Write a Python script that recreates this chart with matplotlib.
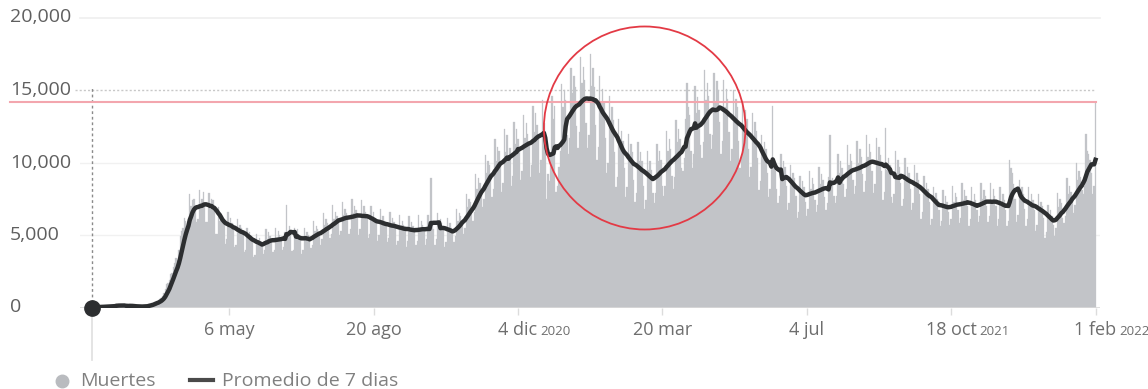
import numpy as np
import pandas as pd
import matplotlib
matplotlib.use("Agg")
import matplotlib.pyplot as plt
import matplotlib.dates as mdates
import matplotlib.transforms as mtransforms
from matplotlib.patches import Ellipse
from matplotlib.lines import Line2D

plt.rcParams['font.family'] = ['Open Sans', 'DejaVu Sans']

# muertes diarias en el mundo (miles), desde el 26 de enero de 2020
inicio = "2020-01-26"

muertes_2020 = [
    0.02, 0.02, 0.03, 0.03, 0.04, 0.04, 0.05,
    0.05, 0.06, 0.07, 0.07, 0.07, 0.08, 0.09,
    0.10, 0.10, 0.10, 0.10, 0.25, 0.14, 0.14,
    0.10, 0.10, 0.10, 0.14, 0.12, 0.10, 0.10,
    0.15, 0.08, 0.08, 0.06, 0.05, 0.06, 0.07,
    0.07, 0.07, 0.08, 0.09, 0.10, 0.10, 0.10,
    0.22, 0.20, 0.30, 0.27, 0.35, 0.40, 0.40,
    0.45, 0.60, 0.65, 0.80, 1.00, 1.30, 1.60,
    1.7, 1.9, 2.3, 2.4, 2.8, 3.1, 3.4,
    3.3, 4.0, 4.9, 5.3, 5.5, 6.2, 6.0,
    5.5, 6.0, 7.8, 7.0, 7.4, 7.5, 6.8,
    5.9, 6.1, 8.1, 7.2, 7.5, 8.0, 7.0,
    5.9, 5.9, 7.9, 6.8, 7.5, 7.4, 6.7,
    5.1, 5.1, 6.9, 6.0, 6.4, 6.2, 5.9,
    4.4, 4.7, 6.6, 5.6, 6.2, 5.8, 5.4,
    4.2, 4.3, 6.1, 5.3, 5.7, 5.5, 5.2,
    3.8, 4.0, 5.5, 4.7, 5.2, 4.9, 4.7,
    3.5, 3.6, 5.1, 4.5, 4.8, 4.6, 4.3,
    3.7, 4.0, 5.4, 4.7, 5.2, 4.9, 4.5,
    3.8, 4.0, 5.5, 4.8, 5.3, 5.0, 4.6,
    4.0, 4.2, 5.2, 7.1, 5.2, 5.6, 5.2,
    3.9, 4.0, 5.5, 4.8, 5.4, 5.1, 4.9,
    3.7, 4.0, 5.5, 4.9, 5.2, 5.0, 4.6,
    4.1, 4.3, 6.0, 5.3, 5.6, 5.4, 5.0,
    4.3, 4.7, 6.5, 5.7, 6.1, 5.8, 5.4,
    4.8, 5.1, 7.1, 6.1, 6.6, 6.3, 6.0,
    5.0, 5.3, 7.3, 6.4, 6.8, 6.5, 6.1,
    5.1, 5.4, 7.5, 6.5, 7.0, 6.7, 6.3,
    5.0, 5.4, 7.4, 6.4, 7.0, 6.6, 6.3,
    4.8, 5.1, 7.0, 6.1, 6.6, 6.2, 5.9,
    4.6, 5.0, 6.8, 5.9, 6.3, 6.0, 5.7,
    4.5, 4.8, 6.6, 5.7, 6.2, 5.9, 5.5,
    4.3, 4.6, 6.4, 5.6, 6.0, 5.7, 5.4,
    4.2, 4.6, 6.3, 5.4, 5.9, 5.6, 5.3,
    4.3, 4.6, 6.4, 5.5, 6.0, 5.7, 5.3,
    4.3, 4.7, 6.4, 5.5, 8.9, 5.7, 5.4,
    4.3, 4.7, 6.5, 5.6, 6.1, 5.8, 5.4,
    4.2, 4.5, 6.2, 5.4, 5.8, 5.5, 5.1,
    4.5, 4.9, 6.8, 6.0, 6.5, 6.3, 6.0,
    5.1, 5.5, 7.8, 6.9, 7.5, 7.3, 6.9,
    6.0, 6.6, 9.2, 8.2, 8.9, 8.6, 8.1,
    6.9, 7.5, 10.5, 9.3, 10.1, 9.8, 9.2,
    7.6, 8.2, 11.6, 10.1, 11.1, 10.8, 10.1,
    8.0, 8.6, 12.3, 10.7, 11.9, 10.2, 11.0,
    8.4, 9.1, 12.8, 11.3, 12.3, 11.6, 10.9,
    8.8, 9.4, 13.3, 11.7, 12.7, 12.0, 11.3,
    9.0, 9.8, 13.9, 12.1, 13.4, 12.6, 11.8,
    9.3, 10.2, 14.3, 12.7, 11.0, 7.5, 9.2,
    8.7, 10.4, 14.6, 13.0, 13.9,
]

muertes_2021 = [
    8.0, 8.4,
    9.7, 10.8, 15.4, 13.8, 15.0, 14.3, 11.9,
    10.6, 11.7, 16.5, 14.8, 16.0, 15.2, 12.5,
    11.0, 12.1, 17.3, 15.5, 16.6, 15.7, 12.7,
    11.0, 11.9, 17.5, 15.3, 16.5, 15.2, 12.6,
    10.2, 11.1, 16.0, 14.2, 15.1, 14.2, 11.7,
    9.3, 10.0, 14.6, 12.8, 13.8, 12.9, 10.7,
    8.3, 9.0, 13.0, 11.4, 12.2, 11.5, 9.6,
    7.6, 8.3, 12.0, 10.6, 11.3, 10.7, 8.8,
    7.3, 7.9, 11.4, 10.1, 10.7, 10.1, 8.4,
    6.8, 7.4, 10.8, 9.5, 10.1, 9.5, 7.9,
    7.2, 7.9, 11.3, 10.1, 10.8, 10.2, 8.4,
    7.7, 8.4, 12.2, 10.8, 11.6, 10.9, 9.1,
    8.2, 9.0, 12.9, 11.4, 12.3, 11.6, 9.6,
    9.4, 10.3, 13.0, 15.5, 13.8, 13.3, 10.8,
    9.6, 10.6, 15.3, 13.4, 14.5, 13.6, 11.2,
    10.3, 11.4, 16.4, 14.3, 15.5, 14.6, 12.0,
    10.9, 11.9, 16.2, 14.2, 15.6, 15.0, 12.8,
    10.6, 11.5, 15.7, 13.8, 15.1, 14.4, 12.1,
    10.1, 10.9, 15.0, 13.2, 14.4, 13.8, 11.5,
    9.6, 10.4, 14.2, 12.4, 13.6, 13.0, 10.9,
    9.0, 9.7, 13.4, 11.7, 12.8, 12.2, 10.3,
    8.1, 8.7, 11.9, 10.4, 11.4, 10.9, 9.3,
    7.6, 8.2, 10.2, 13.9, 9.6, 9.4, 8.2,
    7.2, 7.7, 10.6, 9.3, 10.1, 9.7, 8.4,
    6.7, 7.2, 9.8, 8.6, 9.3, 8.9, 7.7,
    6.2, 6.6, 9.1, 8.0, 8.7, 8.3, 7.3,
    6.3, 6.8, 9.4, 8.2, 8.9, 8.5, 7.4,
    6.6, 7.1, 9.7, 8.5, 9.2, 8.8, 7.6,
    6.7, 7.2, 9.0, 11.9, 8.8, 8.9, 7.7,
    7.2, 7.7, 10.6, 9.3, 10.1, 9.6, 8.5,
    7.6, 8.2, 11.2, 9.8, 10.6, 10.1, 8.8,
    7.8, 8.4, 11.5, 10.0, 10.9, 10.4, 9.2,
    8.0, 8.7, 11.9, 10.4, 11.3, 10.7, 9.4,
    7.9, 8.5, 11.7, 10.2, 11.1, 10.5, 9.4,
    7.4, 8.0, 12.4, 9.5, 10.3, 9.8, 7.6,
    7.2, 7.8, 10.8, 9.3, 10.2, 9.7, 8.6,
    7.0, 7.5, 10.3, 8.9, 9.7, 9.3, 8.2,
    6.7, 7.2, 9.8, 8.6, 9.3, 8.8, 7.8,
    6.1, 6.6, 9.1, 8.0, 8.6, 8.2, 7.3,
    5.7, 6.1, 8.3, 7.3, 7.9, 7.5, 6.7,
    5.6, 6.0, 8.1, 7.1, 7.7, 7.3, 6.6,
    5.7, 6.1, 8.4, 7.3, 7.9, 7.6, 6.7,
    5.8, 6.2, 8.6, 7.4, 8.1, 7.7, 7.0,
    5.6, 6.1, 8.3, 7.2, 7.8, 7.4, 6.7,
    5.9, 6.3, 8.6, 7.5, 8.1, 7.7, 7.0,
    5.9, 6.3, 8.6, 7.4, 8.2, 7.7, 7.0,
    5.6, 6.1, 8.3, 7.2, 7.8, 7.4, 6.7,
    5.6, 6.0, 10.2, 9.6, 9.3, 8.5, 7.5,
    5.9, 6.4, 8.8, 7.6, 8.3, 7.8, 6.8,
    5.6, 6.1, 8.3, 7.2, 7.8, 7.4, 6.7,
    5.3, 5.7, 7.8, 6.8, 7.3, 7.0, 6.2,
    4.8, 5.2, 7.1, 6.2, 6.7, 6.3,
]

muertes_2022 = [
    5.7,
    4.9, 5.5, 7.9, 6.9, 7.5, 7.2, 6.2,
    5.8, 6.3, 8.9, 7.8, 8.4, 8.0, 7.3,
    6.5, 7.1, 10.0, 8.8, 9.4, 9.0, 8.1,
    7.8, 8.4, 12.0, 10.8, 10.6, 10.2, 9.3,
    7.8, 8.4, 14.2,
]

fechas_ticks = ["2020-05-06", "2020-08-20", "2020-12-04", "2021-03-20",
                "2021-07-04", "2021-10-18", "2022-02-01"]
etiquetas_ticks = ["6 may", "20 ago", "4 dic", "20 mar", "4 jul", "18 oct", "1 feb"]
anios_ticks = ["", "", "2020", "", "", "2021", "2022"]

valores_y = [0, 5000, 10000, 15000, 20000]
etiquetas_y = ["0", "5,000", "10,000", "15,000", "20,000"]

muertes = np.array(muertes_2020 + muertes_2021 + muertes_2022) * 1000
fechas = pd.date_range(inicio, periods=len(muertes), freq="D")
x = mdates.date2num(fechas.values)
promedio = pd.Series(muertes).rolling(7, min_periods=1).mean().values
ultimo = muertes[-1]

gris_barras = "#c2c4c8"
negro = "#2c2e30"
texto = "#6e6e6e"

fig = plt.figure(figsize=(11.48, 3.89), dpi=100)
ax = fig.add_axes([80 / 1148, 81.5 / 389, 1020 / 1148, 290 / 389])
ax.set_xlim(x[0] - 8.6, x[0] + 740.3)
ax.set_ylim(0, 20000)
for s in ax.spines.values():
    s.set_visible(False)

# lineas de referencia
ax.axhline(20000, color="#efefef", lw=1.2, zorder=0, clip_on=False)
ax.axhline(15000, xmin=-0.005, xmax=0.995, color="#c8c8c8", lw=1.0,
           ls=(0, (1.5, 1.5)), zorder=0, clip_on=False)
ax.axhline(10000, color="#f1f1f1", lw=1.0, zorder=0)
ax.axhline(5000, color="#f1f1f1", lw=1.0, zorder=0)

# barras diarias y promedio de 7 dias
ax.bar(x, muertes, width=1.0, color=gris_barras, edgecolor=gris_barras,
       linewidth=0.2, zorder=2)
ax.axhline(0, color="#d9d9d9", lw=1.2, zorder=3)
ax.plot(x, promedio, color=negro, lw=3.2, zorder=5, solid_joinstyle="round")
ax.plot(x[0], 0, "o", ms=11, color=negro, zorder=6, clip_on=False)

# linea vertical del inicio
ax.plot([x[0], x[0]], [0, 15200], color="#8a8a8a", lw=1.0, ls=(0, (2, 2)), zorder=3)
ax.plot([x[0], x[0]], [0, -3600], color="#e2e2e2", lw=1.3, zorder=1, clip_on=False)

# nivel del ultimo dia
ax.plot([x[0] - 60, x[-1] + 0.5], [ultimo, ultimo], color="#f3a6ae", lw=1.5,
        zorder=4, clip_on=False)

# circulo que marca el pico de comienzos de 2021
ax.add_patch(Ellipse((x[0] + 406, 12380), width=148, height=14000, fill=False,
                     edgecolor="#e33a45", lw=1.3, zorder=7, clip_on=False))

# eje x
xt = mdates.date2num(pd.to_datetime(fechas_ticks).values)
ax.set_xticks(xt)
ax.set_xticklabels([])
ax.set_yticks([])
ax.tick_params(axis="x", length=5, width=1, color="#dcdcdc")
for pos, etiqueta, anio in zip(xt, etiquetas_ticks, anios_ticks):
    t = ax.annotate(etiqueta, xy=(pos, 0), xytext=(0, -16), textcoords="offset points",
                    ha="center", va="center", fontsize=13, color=texto)
    if anio:
        ax.annotate(anio, xy=(1, 0.19), xycoords=t, xytext=(2, 0),
                    textcoords="offset points", ha="left", va="baseline",
                    fontsize=9.5, color=texto)

# eje y
trans = mtransforms.blended_transform_factory(fig.transFigure, ax.transData)
for v, etiqueta in zip(valores_y, etiquetas_y):
    ax.text(10 / 1148, v, etiqueta, transform=trans, ha="left", va="center",
            fontsize=14, color="#5f5f5f", clip_on=False)

# leyenda
fig.add_artist(Line2D([62 / 1148], [8 / 389], marker="o", ms=9, color="#b9bbbf",
                      transform=fig.transFigure))
fig.text(80 / 1148, 8 / 389, "Muertes", ha="left", va="center", fontsize=14, color="#808080")
fig.add_artist(Line2D([190 / 1148, 213 / 1148], [9 / 389, 9 / 389], lw=3,
                      color="#4a4a4a", transform=fig.transFigure))
fig.text(222 / 1148, 8 / 389, "Promedio de 7 dias", ha="left", va="center",
         fontsize=14, color="#808080")

fig.savefig("out.png", dpi=100)
